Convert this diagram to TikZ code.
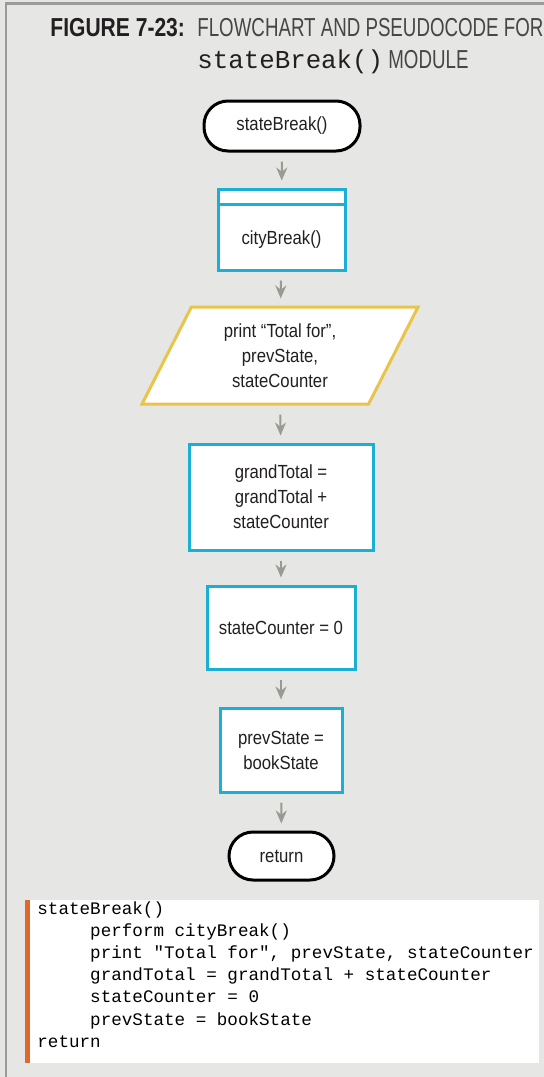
\documentclass[tikz,border=0pt]{standalone}
\usepackage{fontspec}
\setmainfont{Liberation Sans}
\newfontfamily\flowfont{Liberation Sans}[FakeStretch=0.88]
\newfontfamily\titlefont{Liberation Sans}[FakeStretch=0.81]
\newfontfamily\titlelight{Liberation Sans}[FakeStretch=0.72]
\newfontfamily\codefont{Liberation Mono}
\usetikzlibrary{arrows.meta,calc,shapes.geometric}

\definecolor{boxcyan}{RGB}{26,176,214}
\definecolor{ioyellow}{RGB}{232,197,74}
\definecolor{panelgray}{RGB}{230,230,228}
\definecolor{framegray}{RGB}{155,155,152}
\definecolor{arrowgray}{RGB}{154,154,147}
\definecolor{barorange}{RGB}{224,104,42}
\definecolor{inkgray}{RGB}{35,31,32}
\definecolor{lightink}{RGB}{70,70,70}

\begin{document}
\begin{tikzpicture}[x=0.5pt, y=-0.5pt,
    term/.style = {draw=black, line width=1.5pt, fill=white, rounded corners=12pt},
    procbox/.style = {draw=boxcyan, line width=1.5pt, fill=white},
    flowarrow/.style = {arrowgray, line width=1pt, -{Stealth[length=6.5pt, width=5.5pt]},
                        shorten <=4.5pt, shorten >=3.5pt}]
\tikzstyle{every node} = [font = \flowfont\fontsize{9.5}{12.5}\selectfont, text = inkgray, align = center]
\useasboundingbox (0,0) rectangle (544,1077);

% panel and frame
\fill[panelgray] (0,0) rectangle (544,1077);
\draw[framegray, line width=1.3pt] (6,1077) -- (6,3.5) -- (544,3.5);

% title
\node[anchor=base west, inner sep=0, font=\titlefont\bfseries\fontsize{13}{15}\selectfont] (fig) at (50,36) {FIGURE 7-23:};
\node[anchor=base west, inner sep=0, text=lightink, font=\titlelight\fontsize{13}{15}\selectfont] (figtext) at (197,36) {FLOWCHART AND PSEUDOCODE FOR};
\node[anchor=base west, inner sep=0, font=\codefont\fontsize{12.9}{14}\selectfont] (modname) at (197,68) {stateBreak()};
\node[anchor=base west, inner sep=0, text=lightink, font=\titlelight\fontsize{13}{15}\selectfont] (modword) at (388,68) {MODULE};

% flowchart
\node[term, minimum width=78pt, minimum height=25pt] (start) at (282,126) {stateBreak()};
\node[procbox, minimum width=63.5pt, minimum height=40.5pt] (city) at (281.5,229.5) {};
\draw[boxcyan, line width=1.5pt] ($(city.north west)+(0,17)$) -- ($(city.north east)+(0,17)$);
\node (citytext) at (281.5,240) {cityBreak()};
\node[trapezium, trapezium left angle=54, trapezium right angle=126, trapezium stretches body,
      draw=ioyellow, line width=1.5pt, fill=white, minimum width=138pt, minimum height=48.5pt,
      inner sep=1pt] (prnt) at (280,355.5) {print “Total for”,\\prevState,\\stateCounter};
\node[procbox, minimum width=92pt, minimum height=53pt] (grand) at (281,497) {grandTotal =\\grandTotal +\\stateCounter};
\node[procbox, minimum width=74pt, minimum height=41.5pt] (zero) at (281,627.5) {stateCounter = 0};
\node[procbox, minimum width=61pt, minimum height=42pt] (prev) at (281,750) {prevState =\\bookState};
\node[term, minimum width=52.5pt, minimum height=24pt] (ret) at (281.5,856) {return};

\draw[flowarrow] (start) -- (city); %start to cityBreak
\draw[flowarrow] (city) -- (prnt); %cityBreak to print
\draw[flowarrow] (prnt) -- (grand); %print to grandTotal
\draw[flowarrow] (grand) -- (zero); %grandTotal to stateCounter
\draw[flowarrow] (zero) -- (prev); %stateCounter to prevState
\draw[flowarrow] (prev) -- (ret); %prevState to return

% pseudocode
\fill[white] (25,900) rectangle (539,1063);
\fill[barorange] (25,900) rectangle (30,1063);
\node[anchor=north west, inner sep=0, align=left, text=black,
      font=\codefont\fontsize{8.8}{11.1}\selectfont] (pseudo) at (37,901)
{stateBreak()\\
\hphantom{12345}perform cityBreak()\\
\hphantom{12345}print "Total for", prevState, stateCounter\\
\hphantom{12345}grandTotal = grandTotal + stateCounter\\
\hphantom{12345}stateCounter = 0\\
\hphantom{12345}prevState = bookState\\
return};
\end{tikzpicture}
\end{document}
